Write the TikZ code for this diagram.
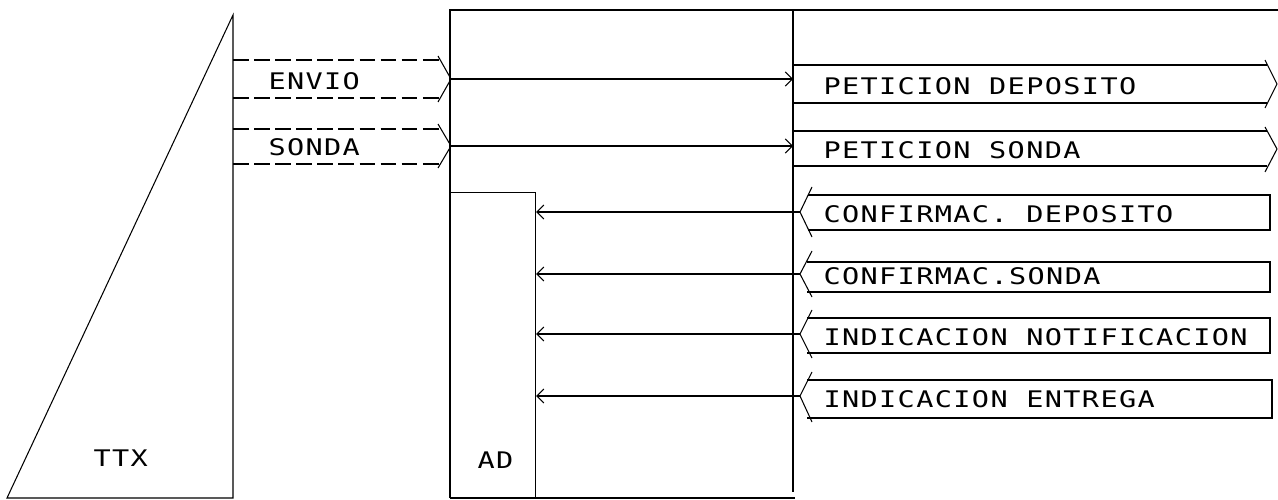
\documentclass[tikz,border=0pt]{standalone}
\usepackage{fontspec}
\newfontfamily\plotter[FakeStretch=1.25, LetterSpace=6]{DejaVu Sans Mono}
\usetikzlibrary{arrows.meta}

\begin{document}
\begin{tikzpicture}[
    x=0.02cm, y=-0.02cm,
    line width=0.6pt,
    label text/.style={
        anchor=west,
        inner sep=0pt,
        font=\plotter\fontsize{13}{15}\selectfont
    },
    dashed band/.style={
        dash pattern=on 9pt off 3pt
    },
    message/.style={
        -{Straight Barb[length=4pt,width=8pt]}
    }
]
\useasboundingbox (0,0) rectangle (1278,500);

% TTX
\draw (7,498) -- (233,15) -- (233,498) -- cycle;
\node[label text] (ttx) at (93,458) {TTX};

% Bloque AD
\draw (450,498) -- (450,10) -- (1278,10);
\draw (450,498) -- (795,498);
\coordinate (col) at (793,10);
\draw (col) -- (793,492);
\node[draw, anchor=south west, minimum width=1.7cm, minimum height=6.1cm,
      inner sep=0pt] (adbox) at (450,498) {};
\node[label text] (ad) at (477,460) {AD};

% Envio
\draw[dashed band] (233,60) -- (440,60);
\draw[dashed band] (233,98) -- (440,98);
\draw (438,56) -- (451,79) -- (438,102);
\coordinate (envio tip) at (451,79);
\node[label text] (envio) at (268,81) {ENVIO};

% Sonda
\draw[dashed band] (233,129) -- (440,129);
\draw[dashed band] (233,164) -- (440,164);
\draw (438,124) -- (451,146) -- (438,168);
\coordinate (sonda tip) at (451,146);
\node[label text] (sonda) at (268,147) {SONDA};

% Peticion deposito
\draw (793,65) -- (1267,65);
\draw (793,103) -- (1267,103);
\draw (1265,60) -- (1277,84) -- (1265,108);
\node[label text] (pdep) at (823,86) {PETICION DEPOSITO};

% Peticion sonda
\draw (793,131) -- (1267,131);
\draw (793,166) -- (1267,166);
\draw (1265,127) -- (1277,149) -- (1265,172);
\node[label text] (pson) at (823,150) {PETICION SONDA};

% Confirmac. deposito
\draw (812,187) -- (800,212) -- (812,237);
\draw (808,195) -- (1270,195) -- (1270,230) -- (808,230);
\coordinate (cdep tip) at (800,212);
\node[label text] (cdep) at (823,214) {CONFIRMAC. DEPOSITO};

% Confirmac. sonda
\draw (812,251) -- (800,274) -- (812,297);
\draw (807,262) -- (1270,262) -- (1270,292) -- (807,292);
\coordinate (cson tip) at (800,274);
\node[label text] (cson) at (823,276) {CONFIRMAC.SONDA};

% Indicacion notificacion
\draw (812,310) -- (800,334) -- (812,358);
\draw (807,318) -- (1270,318) -- (1270,353) -- (807,353);
\coordinate (inot tip) at (800,334);
\node[label text] (inot) at (823,337) {INDICACION NOTIFICACION};

% Indicacion entrega
\draw (812,372) -- (800,396) -- (812,422);
\draw (807,380) -- (1272,380) -- (1272,418) -- (807,418);
\coordinate (ient tip) at (800,396);
\node[label text] (ient) at (823,399) {INDICACION ENTREGA};

% Flechas
\draw[message] (envio tip) -- (envio tip -| col);
\draw[message] (sonda tip) -- (sonda tip -| col);
\draw[message] (cdep tip) -- (cdep tip -| adbox.east);
\draw[message] (cson tip) -- (cson tip -| adbox.east);
\draw[message] (inot tip) -- (inot tip -| adbox.east);
\draw[message] (ient tip) -- (ient tip -| adbox.east);

\end{tikzpicture}
\end{document}
